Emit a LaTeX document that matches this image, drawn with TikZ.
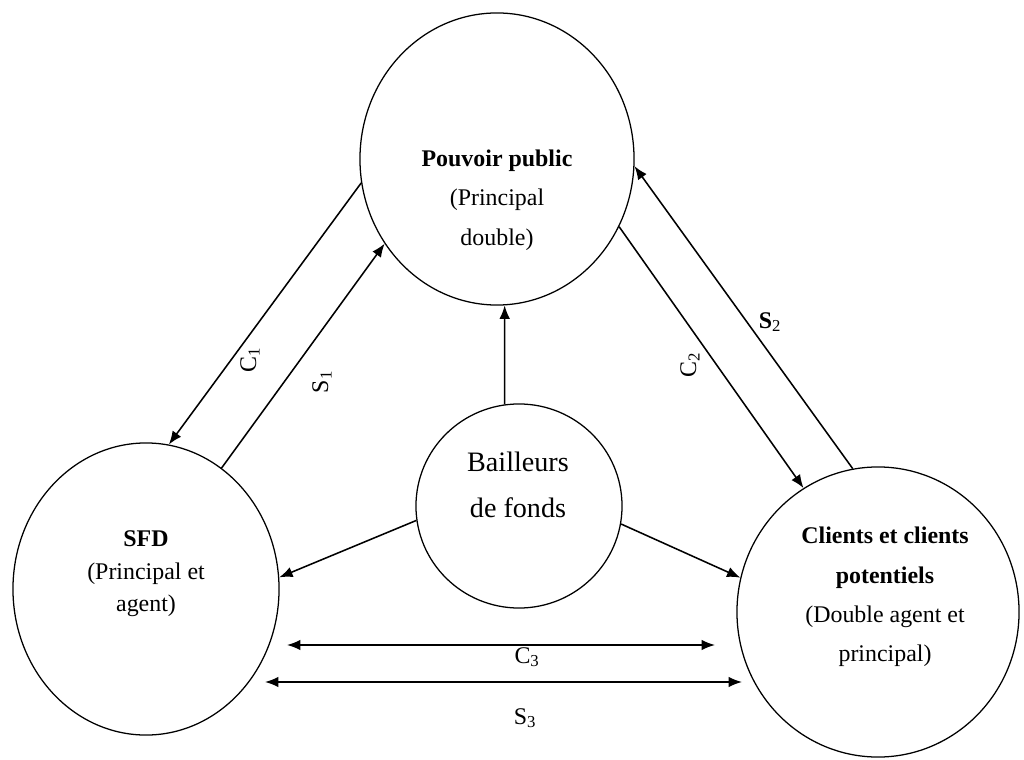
\documentclass[tikz,border=0pt]{standalone}
\usepackage{fontspec}
\setmainfont{Liberation Serif}
\usetikzlibrary{positioning}
\usetikzlibrary{shapes.geometric}
\usetikzlibrary{arrows.meta}

\begin{document}
\begin{tikzpicture}[
	x=0.025cm,
	y=-0.025cm,
	arrow/.style={-{Latex[length=9.5pt,width=7.5pt]}, line width=1.1pt},
	twoway/.style={{Latex[length=9.5pt,width=7.5pt]}-{Latex[length=9.5pt,width=7.5pt]}, line width=1.1pt},
	actor/.style={draw, ellipse, line width=0.9pt, inner sep=0pt},
	txt/.style={align=center, font=\fontsize{17}{28}\selectfont},
	lbl/.style={font=\fontsize{17}{20}\selectfont},
]
\useasboundingbox (0,0) rectangle (1024,760);

% Actors
\node[actor, minimum width=6.85cm, minimum height=7.3cm](pp) at (497,159) {};
\node[actor, minimum width=6.65cm, minimum height=7.3cm](sfd) at (146,589) {};
\node[actor, minimum width=7.05cm, minimum height=7.25cm](cli) at (878,612) {};
\node[actor, minimum width=5.15cm, minimum height=5.1cm](bf) at (519,506) {};

\node[txt](pptxt) at (497,200) {\textbf{Pouvoir public}\\(Principal\\double)};
\node[txt, font=\fontsize{17}{23}\selectfont](sfdtxt) at (146,574) {\textbf{SFD}\\(Principal et\\agent)};
\node[txt](clitxt) at (885,597) {\textbf{Clients et clients}\\\textbf{potentiels}\\(Double agent et\\principal)};
\node[txt, font=\fontsize{20}{33}\selectfont](bftxt) at (518,485) {Bailleurs\\de fonds};

% Contracts and signals
\draw[arrow] (pp.190) -- (sfd.81);
\draw[arrow] (sfd.58) -- (pp.217);
\draw[arrow] (pp.331) -- (cli.121);
\draw[arrow] (cli.100) -- (pp.357);
\draw[twoway] ([shift={(141,56)}]sfd.center) -- ([shift={(-163,33)}]cli.center);
\draw[twoway] ([shift={(119,93)}]sfd.center) -- ([shift={(-136,70)}]cli.center);

% Donors
\draw[arrow] (bf.98) -- (pp.273);
\draw[arrow] (bf.188) -- (sfd.5);
\draw[arrow] (bf.350) -- (cli.166);

% Labels
\node[lbl, rotate=90](c1) at (250,360) {C\textsubscript{1}};
\node[lbl, rotate=90](s1) at (322,382) {S\textsubscript{1}};
\node[lbl, rotate=90](c2) at (690,365) {C\textsubscript{2}};
\node[lbl](s2) at (770,322) {\textbf{S}\textsubscript{2}};
\node[lbl](c3) at (527,657) {C\textsubscript{3}};
\node[lbl](s3) at (525,718) {S\textsubscript{3}};
\end{tikzpicture}
\end{document}
